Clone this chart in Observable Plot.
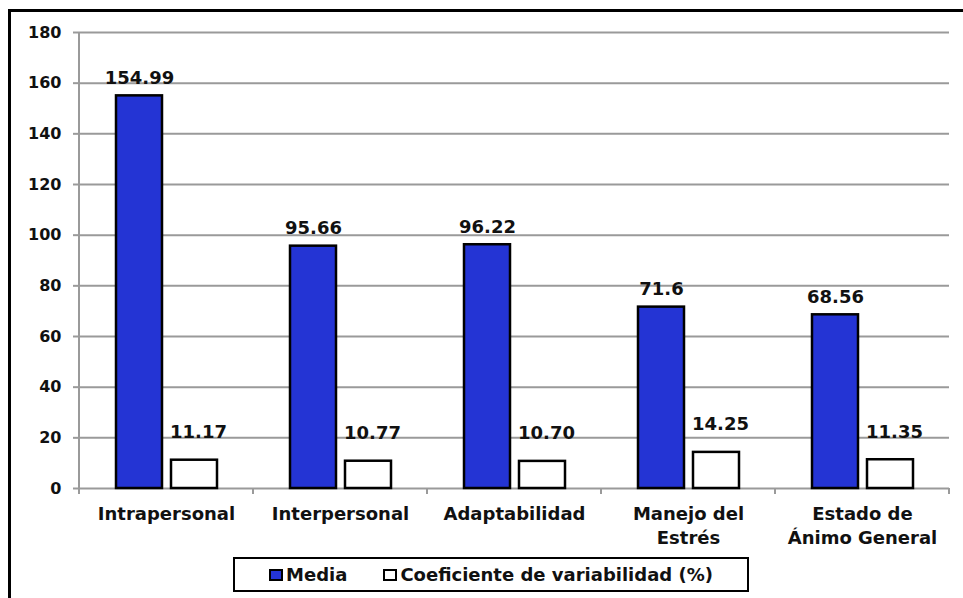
<!DOCTYPE html>
<html><head><meta charset="utf-8">
<script src="https://cdn.jsdelivr.net/npm/d3@7"></script>
<script src="https://cdn.jsdelivr.net/npm/@observablehq/plot@0.6"></script>
<style>
html,body{margin:0;padding:0;background:#fff;overflow:hidden;}
#wrap{position:relative;width:963px;height:598px;overflow:hidden;font-family:"DejaVu Sans",sans-serif;font-weight:bold;color:#111;}
#frame{position:absolute;left:8px;top:9px;width:1000px;height:700px;border-left:3px solid #000;border-top:3px solid #000;box-sizing:border-box;}
#chart{position:absolute;left:0;top:0;}
#legend{position:absolute;left:233px;top:557px;width:516px;height:35px;border:2px solid #000;box-sizing:border-box;display:flex;align-items:center;justify-content:center;font-size:18px;background:#fff;}
.item{display:flex;align-items:center;}
.sw{width:10px;height:8px;border:2px solid #000;margin-right:3px;}
</style></head>
<body><div id="wrap"><div id="frame"></div><div id="chart"></div><div id="legend"></div></div>
<script>
const categories = ["Intrapersonal", "Interpersonal", "Adaptabilidad", "Manejo del\nEstrés", "Estado de\nÁnimo General"];
const series = ["Media", "Coeficiente de variabilidad (%)"];
const media = [154.99, 95.66, 96.22, 71.6, 68.56];
const coef = [11.17, 10.77, 10.70, 14.25, 11.35];
const mediaLabels = ["154.99", "95.66", "96.22", "71.6", "68.56"];
const coefLabels = ["11.17", "10.77", "10.70", "14.25", "11.35"];
const yTicks = [0, 20, 40, 60, 80, 100, 120, 140, 160, 180];
const colors = ["#2434d4", "#ffffff"];

const data = categories.flatMap((c, i) => [
  {cat: c, series: series[0], value: media[i], label: mediaLabels[i]},
  {cat: c, series: series[1], value: coef[i], label: coefLabels[i]}
]);

const grid = "#9a9a9a";
const plot = Plot.plot({
  width: 963, height: 550,
  marginLeft: 78, marginRight: 13, marginTop: 32, marginBottom: 62,
  style: {fontFamily: "DejaVu Sans", fontWeight: "bold", color: "#111", background: "transparent", overflow: "visible"},
  fx: {domain: categories, padding: 0, label: null},
  x: {domain: series, paddingInner: 0.17, paddingOuter: 0.642, axis: null},
  y: {domain: [0, 180], label: null},
  color: {domain: series, range: colors},
  marks: [
    Plot.gridY(yTicks, {stroke: grid, strokeOpacity: 1, strokeWidth: 2}),
    Plot.axisY(yTicks, {tickSize: 6, tickPadding: 12, fontSize: 16, stroke: grid, strokeWidth: 2, fill: "#111", label: null}),
    Plot.axisFx({anchor: "bottom", tickSize: 0, tickPadding: 15, fontSize: 18, lineHeight: 1.3, fill: "#111", label: null}),
    Plot.barY(data, {fx: "cat", x: "series", y: "value", fill: "series", stroke: "#000", strokeWidth: 2.5}),
    Plot.text(data.filter(d => d.series === series[0]), {fx: "cat", x: "series", y: "value", text: "label", lineAnchor: "bottom", dy: -12, fontSize: 18, fill: "#111"}),
    Plot.text(data.filter(d => d.series === series[1]), {fx: "cat", x: "series", y: "value", text: "label", lineAnchor: "bottom", dy: -22, dx: 4, fontSize: 18, fill: "#111"})
  ]
});

// axis line and category boundary ticks from the plot's own scales
const fx = plot.scale("fx"), y = plot.scale("y");
const svg = d3.select(plot);
const y0 = y.apply(0), yTop = y.apply(180);
const g = svg.append("g").attr("stroke", grid).attr("stroke-width", 2);
const x0 = fx.apply(categories[0]);
g.append("line").attr("x1", x0).attr("x2", x0).attr("y1", yTop).attr("y2", y0 + 6);
categories.forEach((c) => {
  const xb = fx.apply(c);
  g.append("line").attr("x1", xb).attr("x2", xb).attr("y1", y0).attr("y2", y0 + 6);
});
const xEnd = fx.apply(categories[categories.length - 1]) + fx.bandwidth;
g.append("line").attr("x1", xEnd).attr("x2", xEnd).attr("y1", y0).attr("y2", y0 + 6);

document.getElementById("chart").appendChild(plot);

// legend
const legend = d3.select("#legend");
series.forEach((s, i) => {
  const it = legend.append("div").attr("class", "item").style("margin-right", i === 0 ? "36px" : "0");
  it.append("div").attr("class", "sw").style("background", colors[i]);
  it.append("span").text(s);
});
</script>
</body></html>
